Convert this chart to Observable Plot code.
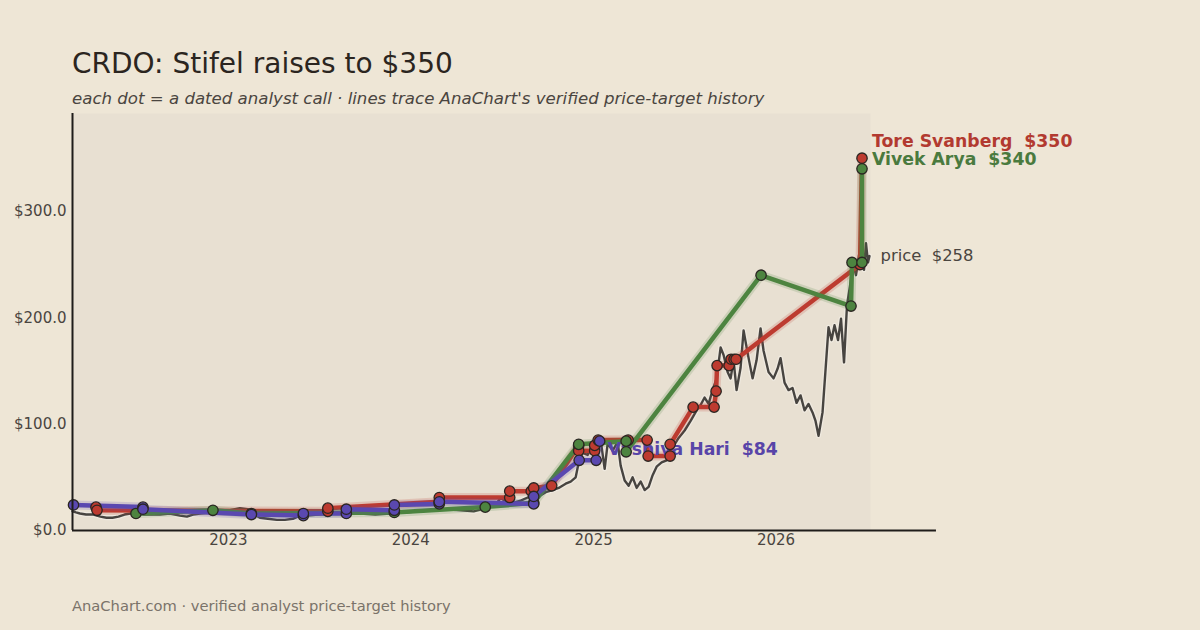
<!DOCTYPE html>
<html><head><meta charset="utf-8">
<script src="https://cdn.jsdelivr.net/npm/d3@7"></script>
<script src="https://cdn.jsdelivr.net/npm/@observablehq/plot@0.6"></script>
<style>
html,body{margin:0;padding:0;background:#eee6d6;}
#wrap{position:relative;width:1200px;height:630px;overflow:hidden;font-family:"DejaVu Sans",sans-serif;}
#title{position:absolute;left:72px;top:50px;font-size:28px;line-height:1;color:#2b2520;white-space:nowrap;}
#sub{position:absolute;left:72px;top:91px;font-size:16.6px;line-height:1;font-style:italic;color:#4a4540;white-space:nowrap;}
#foot{position:absolute;left:72px;top:599px;font-size:14.7px;line-height:1;color:#7a736a;white-space:nowrap;}
#chart{position:absolute;left:0;top:0;}
svg text{white-space:pre;}
</style></head>
<body><div id="wrap">
<div id="title">CRDO: Stifel raises to $350</div>
<div id="sub">each dot = a dated analyst call · lines trace AnaChart's verified price-target history</div>
<div id="chart"></div>
<div id="foot">AnaChart.com · verified analyst price-target history</div>
</div>
<script>
// ---- data ----
const priceDates = ["2022-02-23","2022-03-02","2022-03-10","2022-03-22","2022-04-06","2022-04-20","2022-05-02","2022-05-14","2022-05-26","2022-06-07","2022-06-19","2022-07-03","2022-07-15","2022-07-28","2022-08-17","2022-09-06","2022-09-26","2022-10-10","2022-10-22","2022-11-05","2022-11-25","2022-12-15","2023-01-04","2023-01-24","2023-02-09","2023-02-19","2023-03-05","2023-03-21","2023-04-08","2023-04-24","2023-05-10","2023-05-24","2023-06-09","2023-06-29","2023-07-23","2023-08-23","2023-09-22","2023-10-22","2023-11-21","2023-12-21","2024-01-20","2024-02-09","2024-03-11","2024-04-10","2024-05-06","2024-05-30","2024-06-19","2024-06-29","2024-07-09","2024-07-23","2024-08-08","2024-08-22","2024-09-01","2024-09-13","2024-09-27","2024-10-11","2024-10-23","2024-11-06","2024-11-16","2024-11-26","2024-12-02","2024-12-10","2024-12-20","2024-12-30","2025-01-07","2025-01-15","2025-01-23","2025-01-29","2025-02-08","2025-02-18","2025-02-24","2025-03-04","2025-03-12","2025-03-20","2025-03-28","2025-04-05","2025-04-13","2025-04-21","2025-04-29","2025-05-07","2025-05-17","2025-05-27","2025-06-08","2025-06-20","2025-07-02","2025-07-14","2025-07-26","2025-08-03","2025-08-11","2025-08-19","2025-08-27","2025-09-04","2025-09-12","2025-09-18","2025-09-26","2025-10-02","2025-10-08","2025-10-14","2025-10-22","2025-10-28","2025-11-05","2025-11-15","2025-11-23","2025-12-01","2025-12-07","2025-12-17","2025-12-27","2026-01-04","2026-01-10","2026-01-18","2026-01-26","2026-02-03","2026-02-11","2026-02-19","2026-02-27","2026-03-07","2026-03-15","2026-03-21","2026-03-27","2026-04-04","2026-04-10","2026-04-16","2026-04-22","2026-04-28","2026-05-05","2026-05-11","2026-05-17","2026-05-23","2026-05-29","2026-06-04","2026-06-10","2026-06-16","2026-06-22","2026-06-26","2026-06-30","2026-07-04","2026-07-07"];
const priceValues = [18,17,16,15,15,13,12,12,13,15,16,16,15,15,15,16,14,13,15,16,17,19,19,21,20,16,12,11,10,10,11,14,14,15,16,16,16,15,16,17,18,19,20,19,18,21,24,31,27,26,28,31,34,32,36,38,40,44,46,50,64,73,71,80,77,85,58,82,75,83,61,47,42,50,40,46,38,41,52,60,64,66,78,87,94,103,113,118,125,119,132,143,172,165,149,143,160,132,153,188,167,143,160,190,169,149,143,152,162,139,132,134,120,127,113,119,111,103,89,111,151,191,179,193,179,199,158,212,230,252,240,259,265,245,270,252,258];

const svanbergDates = ["2022-04-11","2022-04-13","2023-07-19","2023-07-19","2024-02-27","2024-02-27","2024-07-17","2024-07-17","2024-08-29","2024-09-03","2024-10-09","2024-12-02","2024-12-02","2025-01-03","2025-01-03","2025-01-10","2025-03-11","2025-04-18","2025-04-20","2025-06-03","2025-06-03","2025-07-19","2025-08-30","2025-09-03","2025-09-05","2025-09-29","2025-10-03","2025-10-09","2025-10-13","2026-06-18","2026-06-22"];
const svanbergTargets = [22,19,18,21,27,31,31,37,37,40,42,80,75,75,80,85,85,85,70,70,81,116,116,131,155,155,161,161,161,250,350];

const aryaDates = ["2022-06-30","2022-12-01","2023-02-16","2023-11-29","2024-05-29","2024-09-03","2024-12-02","2025-03-07","2025-03-07","2025-12-02","2026-05-31","2026-06-02","2026-06-22","2026-06-22"];
const aryaTargets = [16,19,16,17,22,26,81,84,74,240,211,252,252,340];

const hariDates = ["2022-02-25","2022-07-14","2022-07-14","2023-02-16","2023-05-31","2023-05-31","2023-08-25","2023-08-25","2023-11-29","2023-11-29","2024-02-27","2024-02-27","2024-09-03","2024-09-03","2024-12-03","2025-01-06","2025-01-13"];
const hariTargets = [24,22,20,15,14,16,16,20,19,24,25,27,25,32,66,66,84];

const xDomain = ["2022-02-23","2026-07-09"];
const axisEnd = "2026-11-18";
const xTickLabels = ["2023","2024","2025","2026"];
const yTicks = [0,100,200,300];
const yMax = 392;

// ---- build ----
const P = d3.utcParse("%Y-%m-%d");
const mk = (ds, vs) => ds.map((d,i)=>({date:P(d), value:vs[i]}));
const price = mk(priceDates, priceValues);
const svanberg = mk(svanbergDates, svanbergTargets);
const arya = mk(aryaDates, aryaTargets);
const hari = mk(hariDates, hariTargets);

const RED = "#bd3b30", GREEN = "#4d8440", PURPLE = "#5a48b0";
const RED_T = "#b23a30", GREEN_T = "#4a7a3e", PURPLE_T = "#5844a8";
const DOT_STROKE = "#2a2622";

const last = a => [a[a.length-1]];
const series = [[svanberg, RED], [arya, GREEN], [hari, PURPLE]];

const marks = [
  Plot.frame({fill:"#e8e0d2", stroke:null}),
  Plot.line(price, {x:"date", y:"value", stroke:"#ffffff", strokeOpacity:0.3, strokeWidth:5}),
  Plot.line(price, {x:"date", y:"value", stroke:"#474440", strokeWidth:2.4}),
];
for (const [s,c] of series) {
  marks.push(Plot.line(s, {x:"date", y:"value", stroke:c, strokeOpacity:0.18, strokeWidth:9}));
  marks.push(Plot.line(s, {x:"date", y:"value", stroke:c, strokeWidth:4.5}));
}
marks.push(
  Plot.text(last(hari), {x:"date", y:"value", text:d=>"Vashiva Hari  $"+d.value, dx:8, dy:8, textAnchor:"start", fill:PURPLE_T, fontWeight:"bold", fontSize:17.3}),
);
for (const [s,c] of series) {
  marks.push(Plot.dot(s, {x:"date", y:"value", r:5.2, fill:c, stroke:DOT_STROKE, strokeWidth:1.3}));
}
marks.push(
  Plot.ruleX([P(xDomain[0])], {y1:0, y2:yMax, stroke:"#1f1c1a", strokeWidth:2}),
  Plot.ruleY([0], {x1:P(xDomain[0]), x2:P(axisEnd), stroke:"#1f1c1a", strokeWidth:2}),
  Plot.text(last(svanberg), {x:"date", y:"value", text:d=>"Tore Svanberg  $"+d.value, dx:10, dy:-17, textAnchor:"start", fill:RED_T, fontWeight:"bold", fontSize:17.3}),
  Plot.text(last(arya), {x:"date", y:"value", text:d=>"Vivek Arya  $"+d.value, dx:10, dy:-9, textAnchor:"start", fill:GREEN_T, fontWeight:"bold", fontSize:17.3}),
  Plot.text(last(price), {x:"date", y:"value", text:d=>"price  $"+d.value, dx:11, textAnchor:"start", fill:"#4a4540", fontSize:16.4}),
  Plot.axisX({ticks: xTickLabels.map(y=>P(y+"-01-01")), tickFormat:d3.utcFormat("%Y"), tickSize:0, tickPadding:4, label:null, fontSize:15}),
  Plot.axisY({ticks: yTicks, tickFormat:d=>"$"+d.toFixed(1), tickSize:0, tickPadding:6, label:null, fontSize:15}),
);

const chart = Plot.plot({
  width:1200, height:570,
  marginTop:113, marginBottom:40, marginLeft:72, marginRight:330,
  style:{background:"transparent", fontFamily:"DejaVu Sans", fontSize:"15px", color:"#4a4540", overflow:"visible"},
  x:{type:"utc", domain:xDomain.map(P)},
  y:{domain:[0,yMax]},
  marks
});
document.getElementById("chart").appendChild(chart);
</script>
</body></html>
